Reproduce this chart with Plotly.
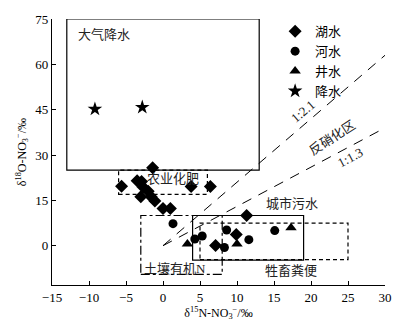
import plotly.graph_objects as go

# ---- data ----
lake_x = [-1.4, -5.6, -3.5, -2.9, -2.7, -2.0, -3.0, -1.6, -1.1, 3.8, 6.4, 0.0, 1.0, 11.3, 7.1, 9.9]
lake_y = [25.8, 19.7, 21.5, 21.2, 19.4, 18.0, 16.2, 16.2, 14.8, 19.6, 19.6, 12.3, 12.3, 10.0, 0.1, 3.7]
river_x = [1.35, 4.3, 5.3, 8.6, 8.3, 11.6, 15.1]
river_y = [7.3, 2.2, 3.2, 5.2, -0.6, 2.0, 5.0]
well_x = [3.3, 10.0, 17.3]
well_y = [0.6, 0.6, 5.9]
rain_x = [-9.2, -2.8]
rain_y = [45.2, 45.8]

series_names = ["湖水", "河水", "井水", "降水"]

# source boxes: (x0, x1, y0, y1)
box_rain = [-13, 13, 25, 75]
box_fert = [-6, 6, 17, 25]
box_soil = [-3, 8, -9.5, 10]
box_sewage = [4, 19, -4.8, 10]
box_manure = [5, 25, -4.6, 7.5]

ratio_slopes = [2.1, 1.3]
ratio_x_end = 30

x_ticks = [-15, -10, -5, 0, 5, 10, 15, 20, 25, 30]
y_ticks = [0, 15, 30, 45, 60, 75]

FONT = "Liberation Serif, Noto Sans CJK SC, serif"

fig = go.Figure()
fig.add_trace(go.Scatter(x=lake_x, y=lake_y, mode="markers", name=series_names[0],
                         marker=dict(symbol="diamond", size=10, color="black")))
fig.add_trace(go.Scatter(x=river_x, y=river_y, mode="markers", name=series_names[1],
                         marker=dict(symbol="circle", size=9, color="black")))
fig.add_trace(go.Scatter(x=well_x, y=well_y, mode="markers", name=series_names[2],
                         marker=dict(symbol="triangle-up", size=10, color="black")))
fig.add_trace(go.Scatter(x=rain_x, y=rain_y, mode="markers", name=series_names[3],
                         marker=dict(symbol="star", size=11, color="black")))

def rect(b, dash):
    fig.add_shape(type="rect", x0=b[0], x1=b[1], y0=b[2], y1=b[3], xref="x", yref="y",
                  line=dict(color="black", width=1.2, dash=dash), fillcolor="rgba(0,0,0,0)")

rect(box_rain, "solid")
rect(box_fert, "4px,3px")
rect(box_soil, "dashdot")
rect(box_sewage, "solid")
rect(box_manure, "4px,3px")

for s in ratio_slopes:
    fig.add_shape(type="line", x0=0, y0=0, x1=ratio_x_end, y1=s * ratio_x_end, xref="x", yref="y",
                  line=dict(color="black", width=1.0, dash="10px,8px"))

labels = [
    ("大气降水", -11.8, 70, 0, "left"),
    ("农业化肥", 1.3, 22.4, 0, "center"),
    ("土壤有机N", 1.6, -7.4, 0, "center"),
    ("城市污水", 17.4, 14.1, 0, "center"),
    ("牲畜粪便", 17.3, -8.3, 0, "center"),
    ("反硝化区", 22.9, 35.8, -33, "center"),
    ("1:2.1", 18.9, 44.3, -40, "center"),
    ("1:1.3", 25.3, 29.3, -28, "center"),
]
for t, x, y, ang, anc in labels:
    fig.add_annotation(x=x, y=y, text=t, showarrow=False, textangle=ang, xanchor=anc,
                       font=dict(family=FONT, size=13, color="#222"))

fig.update_layout(
    width=404, height=327,
    margin=dict(l=52, r=17, t=17, b=34),
    plot_bgcolor="white", paper_bgcolor="white",
    font=dict(family=FONT, size=13, color="black"),
    legend=dict(x=0.67, y=1.01, xanchor="left", yanchor="top", bgcolor="rgba(0,0,0,0)",
                font=dict(family=FONT, size=13), itemwidth=30, tracegroupgap=0),
    showlegend=True,
)
fig.update_xaxes(range=[-15, 30], tickvals=x_ticks, ticks="inside", ticklen=4, tickcolor="black",
                 showline=True, linecolor="black", linewidth=1.2, showgrid=False, zeroline=False,
                 title=dict(text="δ<sup>15</sup>N-NO<sub>3</sub><sup>−</sup>/‰", standoff=2,
                            font=dict(family=FONT, size=12)))
fig.update_yaxes(range=[-13, 75], tickvals=y_ticks, ticks="inside", ticklen=4, tickcolor="black",
                 showline=True, linecolor="black", linewidth=1.2, showgrid=False, zeroline=False,
                 title=dict(text="δ<sup>18</sup>O-NO<sub>3</sub><sup>−</sup>/‰", standoff=6,
                            font=dict(family=FONT, size=12)))

fig.write_html("out.html")
